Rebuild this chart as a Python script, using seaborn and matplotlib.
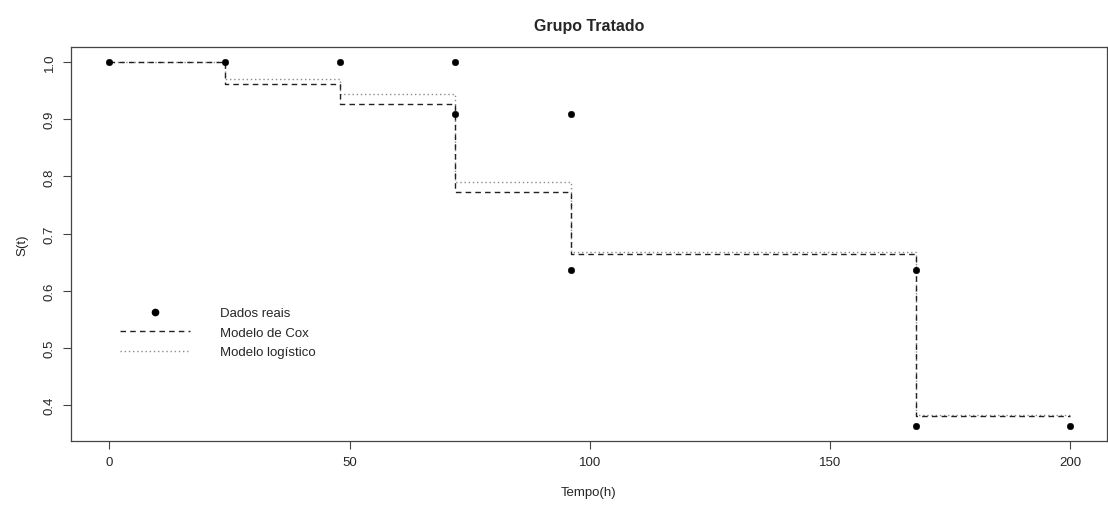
import pandas as pd
import matplotlib
matplotlib.use("Agg")
import matplotlib.pyplot as plt
import seaborn as sb
from matplotlib.lines import Line2D

sb.set_style("white")
plt.rcParams['font.family'] = ['Liberation Sans', 'DejaVu Sans']

# observed data
obs_t = [0, 24, 48, 72, 72, 96, 96, 168, 168, 200]
obs_s = [1.0, 1.0, 1.0, 1.0, 0.909, 0.909, 0.636, 0.636, 0.364, 0.364]

# fitted models (step functions)
step_t = [0, 24, 48, 72, 96, 168, 200]
cox_s = [1.0, 0.962, 0.927, 0.773, 0.665, 0.381, 0.381]
logit_s = [1.0, 0.970, 0.944, 0.790, 0.667, 0.382, 0.382]

df_obs = pd.DataFrame({"t": obs_t, "s": obs_s})
df_cox = pd.DataFrame({"t": step_t, "s": cox_s})
df_log = pd.DataFrame({"t": step_t, "s": logit_s})

fig = plt.figure(figsize=(11.08, 5.1), dpi=100)
ax = fig.add_axes([0.0641, 0.1333, 0.935, 0.7725])

sb.lineplot(data=df_log, x="t", y="s", ax=ax, color="#8c8c8c", lw=1,
            drawstyle="steps-post", linestyle=(0, (1, 2)))
sb.lineplot(data=df_cox, x="t", y="s", ax=ax, color="#222222", lw=1,
            drawstyle="steps-post", linestyle=(0, (4, 3)))
sb.scatterplot(data=df_obs, x="t", y="s", ax=ax, color="black", s=22,
               edgecolor="black", zorder=5)

ax.set_xlim(-8, 207.7)
ax.set_ylim(0.337, 1.0262)
ax.set_xticks([0, 50, 100, 150, 200])
ax.set_yticks([0.4, 0.5, 0.6, 0.7, 0.8, 0.9, 1.0])
ax.set_yticklabels(["0.4", "0.5", "0.6", "0.7", "0.8", "0.9", "1.0"],
                   rotation=90, va="center")
ax.tick_params(axis="both", length=6, width=0.8, color="#444444",
               labelsize=9.5, direction="out", bottom=True, left=True, pad=5)
for sp in ax.spines.values():
    sp.set_color("#444444")
    sp.set_linewidth(0.9)

ax.set_xlabel("Tempo(h)", fontsize=9.5, labelpad=13)
ax.set_ylabel("S(t)", fontsize=9.5, labelpad=11)
ax.set_title("Grupo Tratado", fontsize=11.5, fontweight="bold", pad=12)

handles = [
    Line2D([], [], marker="o", color="black", ls="none", markersize=4.5),
    Line2D([], [], color="#222222", lw=1, linestyle=(0, (4, 3))),
    Line2D([], [], color="#8c8c8c", lw=1, linestyle=(0, (1, 2))),
]
ax.legend(handles, ["Dados reais", "Modelo de Cox", "Modelo logístico"],
          loc="upper left", bbox_to_anchor=(0.036, 0.37), frameon=False,
          fontsize=9.5, handlelength=5.3, handletextpad=2.3, labelspacing=0.55)

fig.savefig("out.png", dpi=100)
